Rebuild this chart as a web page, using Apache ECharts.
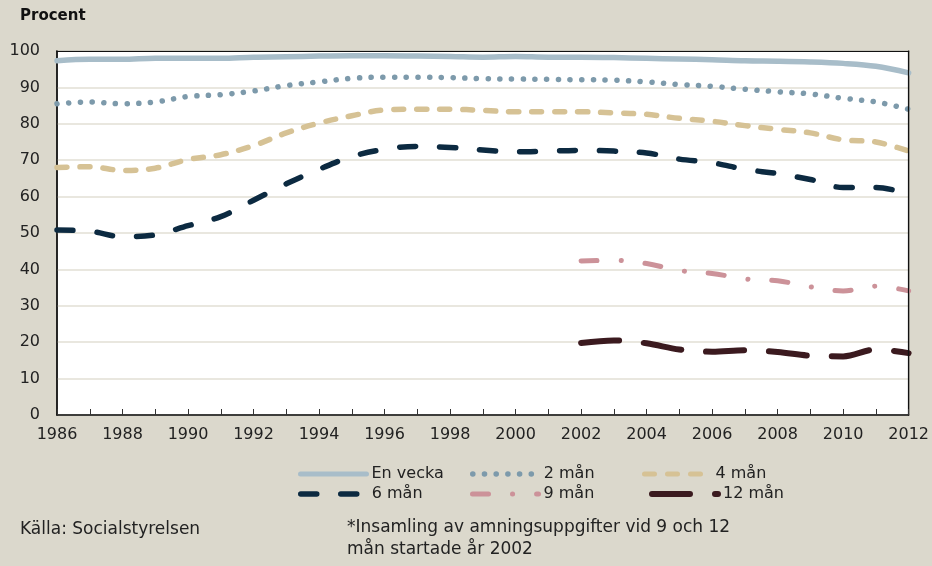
<!DOCTYPE html>
<html>
<head>
<meta charset="utf-8">
<script src="https://cdn.jsdelivr.net/npm/echarts@6/dist/echarts.min.js"></script>
<style>
  html, body { margin: 0; padding: 0; background: #dbd8cc; }
  #chart { width: 932px; height: 566px; }
</style>
</head>
<body>
<div id="chart"></div>
<script>
var years = [];
for (var y = 1986; y <= 2012; y++) years.push(String(y));

var enVecka = [97.3, 97.7, 97.7, 98, 98, 98, 98.3, 98.4, 98.6, 98.7, 98.7, 98.6, 98.5, 98.3, 98.5, 98.3, 98.3, 98.2, 98, 97.8, 97.6, 97.3, 97.2, 97, 96.6, 95.8, 94];
var man2 = [85.5, 86, 85.5, 86, 87.5, 88, 89, 90.5, 91.5, 92.5, 92.8, 92.8, 92.7, 92.4, 92.3, 92.2, 92.1, 92, 91.5, 90.8, 90.3, 89.5, 88.8, 88.2, 87, 86, 84];
var man4 = [68, 68.2, 67.2, 67.8, 70.2, 71.5, 74, 77.5, 80.2, 82.2, 83.8, 84, 84, 83.7, 83.3, 83.3, 83.3, 83, 82.6, 81.5, 80.7, 79.5, 78.5, 77.5, 75.6, 75, 72.5];
var man6 = [50.8, 50.5, 49, 49.5, 52, 54.5, 59, 63.5, 67.5, 71, 73, 73.8, 73.5, 72.8, 72.3, 72.5, 72.7, 72.5, 72, 70.3, 69.3, 67.5, 66.3, 64.7, 62.5, 62.5, 60.8];
var man9 = [null, null, null, null, null, null, null, null, null, null, null, null, null, null, null, null, 42.3, 42.5, 41.6, 39.7, 38.9, 37.4, 36.9, 35.2, 34.1, 35.4, 34.1];
var man12 = [null, null, null, null, null, null, null, null, null, null, null, null, null, null, null, null, 19.8, 20.5, 19.7, 18, 17.4, 17.8, 17.3, 16.3, 16.1, 18, 17];

var font = '"DejaVu Sans", sans-serif';

function line(name, data, color, width, dash) {
    return {
        name: name,
        type: 'line',
        data: data,
        smooth: 0.35,
        symbol: 'none',
        connectNulls: false,
        lineStyle: { color: color, width: width, type: dash, cap: 'round', join: 'round' },
        itemStyle: { color: color }
    };
}

//图例位置
var legendPos = [
    { name: 'En vecka', left: 293, top: 461, w: 5 },
    { name: '2 mån', left: 465, top: 461, w: 5.5 },
    { name: '4 mån', left: 637, top: 461, w: 5 },
    { name: '6 mån', left: 293, top: 481, w: 5.5 },
    { name: '9 mån', left: 465, top: 481, w: 5 },
    { name: '12 mån', left: 644, top: 481, w: 6 }
];
var legends = [];
for (var i = 0; i < legendPos.length; i++) {
    legends.push({
        data: [legendPos[i].name],
        left: legendPos[i].left,
        top: legendPos[i].top,
        itemWidth: 66,
        itemHeight: 18,
        itemGap: 4,
        selectedMode: false,
        itemStyle: { opacity: 0 },
        lineStyle: { width: legendPos[i].w },
        textStyle: { fontFamily: font, fontSize: 16, color: '#222' }
    });
}

var chart = echarts.init(document.getElementById('chart'));
chart.setOption({
    backgroundColor: '#dbd8cc',
    animation: false,
    title: [
        { text: 'Procent', left: 15, top: 4, textStyle: { fontFamily: font, fontSize: 15, fontWeight: 'bold', color: '#111' } },
        { text: 'Källa: Socialstyrelsen', left: 15, top: 516, textStyle: { fontFamily: font, fontSize: 17, fontWeight: 'normal', color: '#222' } },
        { text: '*Insamling av amningsuppgifter vid 9 och 12\nmån startade år 2002', left: 342, top: 512, textStyle: { fontFamily: font, fontSize: 17, fontWeight: 'normal', color: '#222', lineHeight: 22 } }
    ],
    legend: legends,
    grid: {
        left: 57, right: 22, top: 51, bottom: 151,
        show: true, backgroundColor: '#ffffff', borderColor: '#111', borderWidth: 1.2
    },
    xAxis: [{
        type: 'category',
        data: years,
        boundaryGap: false,
        z: 5,
        axisLine: { show: true, lineStyle: { color: '#111', width: 1.5 } },
        axisTick: { show: true, inside: true, interval: 0, length: 6, lineStyle: { color: '#333' } },
        axisLabel: { interval: 1, margin: 12, fontFamily: font, fontSize: 16, color: '#222' },
        splitLine: { show: false }
    }, {
        //上边框
        type: 'category',
        data: years,
        position: 'top',
        boundaryGap: false,
        z: 5,
        axisLine: { show: true, onZero: false, lineStyle: { color: '#111', width: 1.2 } },
        axisTick: { show: false },
        axisLabel: { show: false },
        splitLine: { show: false }
    }],
    yAxis: [{
        type: 'value',
        min: 0, max: 100, interval: 10,
        axisLine: { show: true, lineStyle: { color: '#111', width: 1.5 } },
        axisTick: { show: false },
        axisLabel: { margin: 17, fontFamily: font, fontSize: 16, color: '#222' },
        splitLine: { lineStyle: { color: '#e2dfd5', width: 1.5 } }
    }, {
        //右边框
        type: 'value',
        position: 'right',
        min: 0, max: 100, interval: 10,
        z: 5,
        axisLine: { show: true, onZero: false, lineStyle: { color: '#111', width: 1.2 } },
        axisTick: { show: false },
        axisLabel: { show: false },
        splitLine: { show: false }
    }],
    series: [
        line('En vecka', enVecka, '#a8bdc9', 5.5, 'solid'),
        line('2 mån', man2, '#7d9aab', 5.5, [0.1, 11.6]),
        line('4 mån', man4, '#d6c295', 5.5, [10, 13]),
        line('6 mån', man6, '#0c2a41', 5.5, [16, 24]),
        line('9 mån', man9, '#cc9299', 5, [16, 24, 0.1, 24]),
        line('12 mån', man12, '#3b1a1f', 6, [38, 25])
    ]
});
</script>
</body>
</html>
